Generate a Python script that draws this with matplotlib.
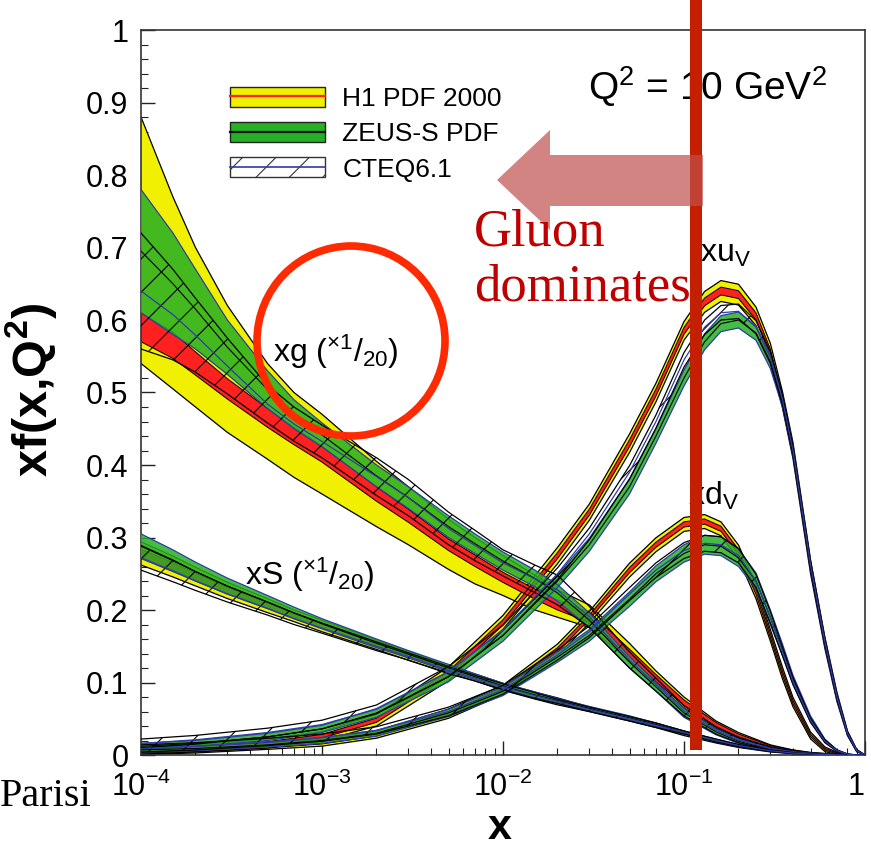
import numpy as np
import matplotlib
matplotlib.use("Agg")
import matplotlib.pyplot as plt
from matplotlib.patches import Patch, Polygon, Ellipse, Rectangle
from matplotlib.lines import Line2D
from matplotlib.ticker import MultipleLocator, LogLocator, FixedFormatter, FixedLocator, FuncFormatter, NullFormatter

plt.rcParams['font.family'] = ['Liberation Sans', 'DejaVu Sans']
plt.rcParams['mathtext.fontset'] = 'custom'
plt.rcParams['mathtext.rm'] = 'Liberation Sans'
plt.rcParams['mathtext.it'] = 'Liberation Sans:italic'
plt.rcParams['mathtext.bf'] = 'Liberation Sans:bold'
plt.rcParams['hatch.linewidth'] = 0.8

# ---- data ----
# gluon and sea grid
x_glu = [1e-4, 1.5e-4, 2e-4, 3e-4, 5e-4, 7e-4, 1e-3, 2e-3, 3e-3, 5e-3, 7e-3, 1e-2, 1.5e-2,
         2e-2, 3e-2, 5e-2, 7e-2, 0.1, 0.15, 0.2, 0.3, 0.4, 0.5, 0.7, 1.0]

# xg (x 1/20)
xg_h1_c = [0.59, 0.565, 0.54, 0.505, 0.465, 0.44, 0.415, 0.36, 0.33, 0.29, 0.268, 0.245, 0.222,
           0.207, 0.19, 0.14, 0.106, 0.072, 0.042, 0.027, 0.012, 0.006, 0.003, 0.0007, 0.0]
xg_h1_exp = [0.02, 0.018, 0.016, 0.014, 0.013, 0.012, 0.011, 0.01, 0.009, 0.008, 0.008, 0.007, 0.007,
             0.007, 0.007, 0.006, 0.005, 0.004, 0.003, 0.002, 0.001, 0.0008, 0.0005, 0.0002, 0.0]
xg_h1_lo = [0.54, 0.505, 0.48, 0.445, 0.408, 0.383, 0.36, 0.315, 0.29, 0.256, 0.236, 0.22, 0.2,
            0.19, 0.176, 0.13, 0.098, 0.065, 0.037, 0.023, 0.01, 0.005, 0.0025, 0.0005, 0.0]
xg_h1_hi = [0.88, 0.77, 0.70, 0.62, 0.54, 0.50, 0.47, 0.405, 0.37, 0.325, 0.3, 0.275, 0.248,
            0.228, 0.207, 0.154, 0.116, 0.08, 0.047, 0.031, 0.014, 0.007, 0.0035, 0.0009, 0.0]
xg_zeus_lo = [0.61, 0.58, 0.56, 0.525, 0.478, 0.45, 0.425, 0.37, 0.34, 0.3, 0.278, 0.255, 0.232,
              0.212, 0.176, 0.12, 0.088, 0.052, 0.028, 0.016, 0.006, 0.003, 0.0014, 0.0003, 0.0]
xg_zeus_hi = [0.78, 0.72, 0.67, 0.6, 0.53, 0.49, 0.458, 0.4, 0.37, 0.33, 0.305, 0.28, 0.255,
              0.235, 0.196, 0.136, 0.1, 0.064, 0.036, 0.022, 0.01, 0.005, 0.0025, 0.0006, 0.0]
xg_cteq_lo = [0.56, 0.545, 0.528, 0.498, 0.458, 0.433, 0.41, 0.358, 0.33, 0.29, 0.268, 0.247, 0.224,
              0.207, 0.176, 0.12, 0.088, 0.054, 0.029, 0.017, 0.007, 0.0035, 0.0017, 0.0003, 0.0]
xg_cteq_hi = [0.72, 0.67, 0.63, 0.575, 0.51, 0.48, 0.455, 0.41, 0.38, 0.335, 0.31, 0.283, 0.262,
              0.248, 0.205, 0.142, 0.106, 0.068, 0.039, 0.024, 0.011, 0.0055, 0.0027, 0.0006, 0.0]

# xS (x 1/20)
xS_h1_c = [0.278, 0.26, 0.246, 0.227, 0.206, 0.192, 0.178, 0.152, 0.137, 0.118, 0.107, 0.094, 0.082,
           0.074, 0.063, 0.05, 0.041, 0.03, 0.019, 0.012, 0.0055, 0.0025, 0.0012, 0.0002, 0.0]
xS_h1_e = [0.01, 0.009, 0.008, 0.007, 0.006, 0.005, 0.005, 0.004, 0.004, 0.003, 0.003, 0.003, 0.003,
           0.003, 0.002, 0.002, 0.002, 0.002, 0.0015, 0.001, 0.0008, 0.0005, 0.0003, 0.0001, 0.0]
xS_zeus_c = [0.288, 0.268, 0.253, 0.233, 0.211, 0.196, 0.181, 0.154, 0.139, 0.12, 0.108, 0.095, 0.083,
             0.075, 0.064, 0.051, 0.042, 0.031, 0.02, 0.013, 0.006, 0.0028, 0.0013, 0.0002, 0.0]
xS_zeus_e = [0.017, 0.015, 0.013, 0.011, 0.009, 0.008, 0.007, 0.006, 0.005, 0.005, 0.004, 0.004, 0.004,
             0.003, 0.003, 0.003, 0.002, 0.002, 0.002, 0.0015, 0.001, 0.0006, 0.0003, 0.0001, 0.0]
xS_cteq_c = [0.272, 0.254, 0.24, 0.222, 0.202, 0.188, 0.175, 0.15, 0.136, 0.117, 0.106, 0.094, 0.082,
             0.074, 0.063, 0.05, 0.041, 0.031, 0.02, 0.013, 0.0058, 0.0027, 0.0013, 0.0002, 0.0]
xS_cteq_e = [0.017, 0.015, 0.013, 0.011, 0.009, 0.008, 0.007, 0.006, 0.005, 0.005, 0.004, 0.004, 0.004,
             0.003, 0.003, 0.003, 0.003, 0.002, 0.002, 0.0015, 0.001, 0.0006, 0.0003, 0.0001, 0.0]

# valence grid
x_val = [1e-4, 2e-4, 5e-4, 1e-3, 2e-3, 5e-3, 1e-2, 2e-2, 3e-2, 5e-2, 7e-2, 0.1, 0.13,
         0.16, 0.2, 0.25, 0.3, 0.35, 0.4, 0.5, 0.6, 0.7, 0.8, 0.9, 1.0]

xuv_h1_c = [0.006, 0.009, 0.016, 0.026, 0.048, 0.112, 0.183, 0.275, 0.335, 0.43, 0.5, 0.585, 0.625,
            0.64, 0.635, 0.605, 0.555, 0.49, 0.42, 0.26, 0.155, 0.08, 0.03, 0.006, 0.0]
xuv_h1_e = [0.003, 0.003, 0.004, 0.004, 0.005, 0.006, 0.006, 0.007, 0.007, 0.008, 0.008, 0.008, 0.009,
            0.009, 0.009, 0.008, 0.008, 0.007, 0.007, 0.006, 0.005, 0.004, 0.002, 0.001, 0.0]
xuv_zeus_c = [0.012, 0.016, 0.025, 0.036, 0.058, 0.108, 0.165, 0.24, 0.29, 0.37, 0.44, 0.52, 0.57,
              0.595, 0.6, 0.582, 0.542, 0.488, 0.42, 0.262, 0.156, 0.08, 0.03, 0.006, 0.0]
xuv_zeus_e = [0.004, 0.004, 0.005, 0.005, 0.006, 0.007, 0.008, 0.009, 0.009, 0.01, 0.01, 0.011, 0.011,
              0.011, 0.011, 0.01, 0.009, 0.008, 0.007, 0.006, 0.005, 0.004, 0.002, 0.001, 0.0]
xuv_cteq_c = [0.016, 0.021, 0.031, 0.042, 0.063, 0.115, 0.172, 0.25, 0.305, 0.39, 0.46, 0.545, 0.59,
              0.61, 0.612, 0.59, 0.548, 0.49, 0.42, 0.262, 0.156, 0.08, 0.03, 0.006, 0.0]
xuv_cteq_e = [0.006, 0.006, 0.006, 0.006, 0.006, 0.007, 0.007, 0.008, 0.008, 0.009, 0.009, 0.01, 0.01,
              0.01, 0.01, 0.009, 0.008, 0.007, 0.006, 0.005, 0.004, 0.003, 0.002, 0.001, 0.0]

xdv_h1_c = [0.004, 0.006, 0.011, 0.017, 0.028, 0.057, 0.09, 0.145, 0.19, 0.255, 0.29, 0.318, 0.322,
            0.312, 0.28, 0.225, 0.165, 0.113, 0.073, 0.027, 0.008, 0.002, 0.0005, 0.0, 0.0]
xdv_h1_e = [0.002, 0.002, 0.002, 0.003, 0.003, 0.004, 0.004, 0.005, 0.005, 0.006, 0.006, 0.006, 0.006,
            0.006, 0.006, 0.006, 0.005, 0.005, 0.004, 0.003, 0.002, 0.001, 0.0003, 0.0, 0.0]
xdv_zeus_c = [0.007, 0.009, 0.014, 0.02, 0.03, 0.058, 0.088, 0.135, 0.165, 0.215, 0.25, 0.278, 0.29,
              0.288, 0.272, 0.24, 0.19, 0.145, 0.104, 0.05, 0.02, 0.006, 0.001, 0.0, 0.0]
xdv_zeus_e = [0.003, 0.003, 0.003, 0.004, 0.004, 0.005, 0.006, 0.007, 0.008, 0.01, 0.011, 0.012, 0.013,
              0.013, 0.012, 0.011, 0.01, 0.008, 0.006, 0.004, 0.002, 0.001, 0.0005, 0.0, 0.0]
xdv_cteq_c = [0.009, 0.012, 0.018, 0.024, 0.034, 0.06, 0.09, 0.138, 0.17, 0.222, 0.255, 0.282, 0.292,
              0.29, 0.275, 0.24, 0.19, 0.143, 0.102, 0.048, 0.019, 0.006, 0.001, 0.0, 0.0]
xdv_cteq_e = [0.005, 0.005, 0.005, 0.005, 0.005, 0.006, 0.006, 0.007, 0.008, 0.009, 0.01, 0.011, 0.011,
              0.011, 0.01, 0.009, 0.008, 0.006, 0.005, 0.003, 0.002, 0.001, 0.0005, 0.0, 0.0]

legend_labels = ["H1 PDF 2000", "ZEUS-S PDF", "CTEQ6.1"]
xtick_vals = [1e-4, 1e-3, 1e-2, 1e-1, 1]
xtick_labels = [r"$\mathregular{10^{-4}}$", r"$\mathregular{10^{-3}}$", r"$\mathregular{10^{-2}}$",
                r"$\mathregular{10^{-1}}$", "1"]

YELLOW = "#f0f000"
RED = "#ff2020"
GREEN = "#25b025"
BLUE = "#2e3ca6"

W, H = 871, 847


def fx(px):
    return px / W


def fy(py):
    return 1 - py / H


fig = plt.figure(figsize=(W / 100, H / 100), dpi=100)
ax = fig.add_axes([fx(141), fy(755), 724 / W, 725 / H])


def h1_band(x, lo, hi, c, e):
    x = np.array(x); lo = np.array(lo); hi = np.array(hi); c = np.array(c); e = np.array(e)
    ax.fill_between(x, lo, hi, facecolor=YELLOW, edgecolor="none", zorder=2)
    ax.plot(x, lo, color="black", lw=0.9, zorder=2.1)
    ax.plot(x, hi, color="black", lw=0.9, zorder=2.1)
    ax.fill_between(x, c - e, c + e, facecolor=RED, edgecolor="none", zorder=2.2)
    ax.plot(x, c - e, color="black", lw=0.7, zorder=2.3)
    ax.plot(x, c + e, color="black", lw=0.7, zorder=2.3)


def zeus_band(x, lo, hi):
    x = np.array(x); lo = np.array(lo); hi = np.array(hi)
    ax.fill_between(x, lo, hi, facecolor=GREEN, alpha=0.85, edgecolor="none", zorder=3)
    ax.plot(x, lo, color=BLUE, lw=0.9, zorder=3.1)
    ax.plot(x, hi, color=BLUE, lw=0.9, zorder=3.1)
    ax.plot(x, (lo + hi) / 2, color="black", lw=0.8, zorder=3.1)


def cteq_band(x, lo, hi):
    x = np.array(x); lo = np.array(lo); hi = np.array(hi)
    ax.fill_between(x, lo, hi, facecolor="none", edgecolor="black", hatch="/", lw=0, zorder=4)
    ax.plot(x, lo, color="black", lw=0.9, zorder=4.1)
    ax.plot(x, hi, color="black", lw=0.9, zorder=4.1)
    ax.plot(x, (lo + hi) / 2, color=BLUE, lw=0.9, zorder=4.1)


# gluon
h1_band(x_glu, xg_h1_lo, xg_h1_hi, xg_h1_c, xg_h1_exp)
zeus_band(x_glu, xg_zeus_lo, xg_zeus_hi)
cteq_band(x_glu, xg_cteq_lo, xg_cteq_hi)

# sea and valence
for c, e, kind in [(xS_h1_c, xS_h1_e, "h1"), (xS_zeus_c, xS_zeus_e, "zeus"), (xS_cteq_c, xS_cteq_e, "cteq"),
                   (xuv_h1_c, xuv_h1_e, "h1v"), (xuv_zeus_c, xuv_zeus_e, "zeusv"), (xuv_cteq_c, xuv_cteq_e, "cteqv"),
                   (xdv_h1_c, xdv_h1_e, "h1v"), (xdv_zeus_c, xdv_zeus_e, "zeusv"), (xdv_cteq_c, xdv_cteq_e, "cteqv")]:
    xs = x_glu if kind in ("h1", "zeus", "cteq") else x_val
    c = np.array(c); e = np.array(e)
    if kind.startswith("h1"):
        h1_band(xs, c - 1.6 * e, c + 1.6 * e, c, e * 0.6)
    elif kind.startswith("zeus"):
        zeus_band(xs, c - e, c + e)
    else:
        cteq_band(xs, c - e, c + e)

ax.set_xscale("log")
ax.set_xlim(1e-4, 1)
ax.set_ylim(0, 1)

ax.xaxis.set_major_locator(FixedLocator(xtick_vals))
ax.xaxis.set_major_formatter(FixedFormatter(xtick_labels))
ax.xaxis.set_minor_locator(LogLocator(base=10, subs=np.arange(2, 10)))
ax.xaxis.set_minor_formatter(NullFormatter())
ax.yaxis.set_major_locator(MultipleLocator(0.1))
ax.yaxis.set_minor_locator(MultipleLocator(0.02))
ax.yaxis.set_major_formatter(FuncFormatter(lambda v, p: "%g" % round(v, 2)))
ax.tick_params(which="major", direction="in", length=10, width=1.0, labelsize=22, pad=9,
               top=False, right=False, color="#222222")
ax.tick_params(axis="x", which="major", pad=12)
ax.tick_params(which="minor", direction="in", length=5, width=0.8, top=False, right=False, color="#222222")
for s in ax.spines.values():
    s.set_color("#333333")
    s.set_linewidth(1.2)
# keep the "1" at the right end inside the picture
ax.get_xticklabels()[-1].set_horizontalalignment("right")

# legend
handles = [(Patch(facecolor=YELLOW, edgecolor="#222222", lw=1), Line2D([], [], color=RED, lw=1.6)),
           (Patch(facecolor=GREEN, edgecolor="#222222", lw=1), Line2D([], [], color="#111111", lw=1.6)),
           (Patch(facecolor="white", edgecolor="#333333", hatch="/", lw=1), Line2D([], [], color=BLUE, lw=1.2))]
ax.legend(handles, legend_labels, loc="upper left", bbox_to_anchor=(0.123, 0.922), frameon=False,
          fontsize=19, handlelength=3.6, handleheight=0.8, handletextpad=0.65, labelspacing=0.42,
          borderpad=0, borderaxespad=0)

# labels inside the plot
ax.text(0.617, 0.903, r"Q$^\mathregular{2}$ = 10 GeV$^\mathregular{2}$", transform=ax.transAxes,
        fontsize=28, va="baseline", ha="left")
ax.text(0.182, 0.542, r"xg ($^{\times 1}$/$_{20}$)", transform=ax.transAxes, fontsize=23, va="baseline")
ax.text(0.1436, 0.2345, r"xS ($^{\times 1}$/$_{20}$)", transform=ax.transAxes, fontsize=23, va="baseline")
ax.text(0.772, 0.68, r"xu$_\mathregular{V}$", transform=ax.transAxes, fontsize=23, va="baseline")
ax.text(0.755, 0.345, r"xd$_\mathregular{V}$", transform=ax.transAxes, fontsize=23, va="baseline")

# axis titles
fig.text(fx(500), fy(828), "x", fontsize=31, fontweight="bold", ha="center", va="center")
fig.text(fx(31), fy(390), r"xf(x,Q$^\mathbf{2}$)", fontsize=35, fontweight="bold", ha="center",
         va="center", rotation=90)

# slide annotations
fig.add_artist(Rectangle((fx(690), fy(750)), 12 / W, 750 / H, facecolor="#c42000", edgecolor="none",
                         zorder=5))
arrow_px = [(497, 180), (550, 130), (550, 155), (703, 155), (703, 206), (550, 206), (550, 230)]
fig.add_artist(Polygon([(fx(a), fy(b)) for a, b in arrow_px], closed=True, facecolor="#c0504d",
                       alpha=0.7, edgecolor="none", zorder=6))
fig.add_artist(Ellipse((fx(351), fy(341)), 188 / W, 190 / H, fill=False, edgecolor="#ff2a00", lw=5.5,
                       zorder=6))
fig.text(fx(474), fy(246), "Gluon", color="#c00000", fontsize=38, family="Liberation Serif",
         va="baseline", ha="left", zorder=7)
fig.text(fx(474), fy(300), "dominates", color="#c00000", fontsize=38, family="Liberation Serif",
         va="baseline", ha="left", zorder=7)
fig.text(fx(0), fy(806), "Parisi", color="black", fontsize=29, family="Liberation Serif",
         va="baseline", ha="left")

fig.savefig("out.png", dpi=100)
